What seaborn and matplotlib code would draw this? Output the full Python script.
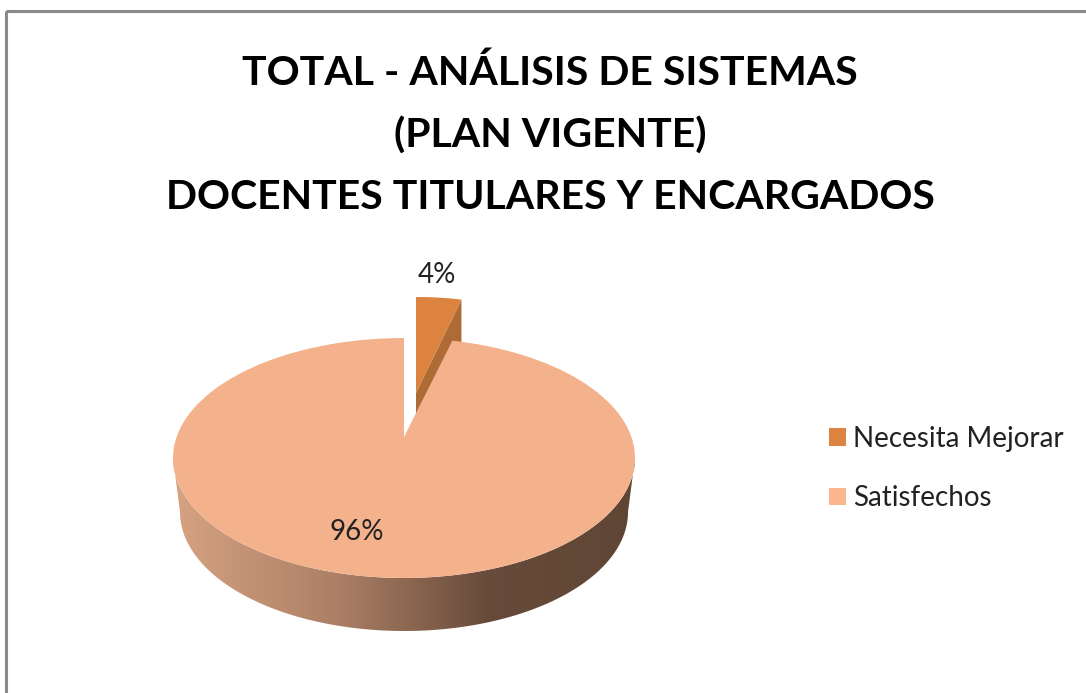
import matplotlib
matplotlib.use("Agg")
import numpy as np
import matplotlib.pyplot as plt
import seaborn as sns
from matplotlib.colors import LinearSegmentedColormap
from matplotlib.patches import Polygon, Rectangle
from matplotlib.transforms import Transform, Affine2D

categories = ["Necesita Mejorar", "Satisfechos"]
values = [4, 96]
title_text = "TOTAL - ANÁLISIS DE SISTEMAS\n(PLAN VIGENTE)\nDOCENTES TITULARES Y ENCARGADOS"

slice_colors = ["#DC833F", "#F4B28C"]
legend_colors = ["#DC833F", "#FBB58F"]
wedge_side_color = "#AE6B35"
side_stops = [(0.0, "#D6A282"), (0.36, "#AB7F65"), (0.68, "#684B3A"), (1.0, "#5F4634")]

sns.set_theme(style="white")
plt.rcParams["font.family"] = ["Lato", "DejaVu Sans"]

CX, CY = 404.0, 437.0
K, A, B = 0.175, 116.3, 227.4


class Perspective(Transform):
    """Tilts the flat unit-circle pie into pixel-like axes coordinates."""
    input_dims = output_dims = 2
    has_inverse = False
    is_separable = False

    def transform_non_affine(self, values):
        p = np.asarray(values, float)
        d = 1 + K * p[:, 1]
        return np.column_stack((CX + B * p[:, 0] / d, CY - A * p[:, 1] / d))


fig = plt.figure(figsize=(10.86, 6.93), dpi=100, facecolor="white")
ax = fig.add_axes([0, 0, 1, 1])

wedges, _, autotexts = ax.pie(
    values, colors=sns.color_palette(slice_colors), startangle=90, counterclock=False,
    autopct="%1.0f%%", wedgeprops={"linewidth": 0},
    textprops={"fontsize": 20, "color": "#222222"},
)
ax.set_aspect("auto")

persp = Perspective()
small, big = wedges
small_tr = persp + Affine2D().translate(-CX, -CY).scale(0.94, 0.97).translate(CX + 12, CY - 44)
small.set_transform(small_tr + ax.transData)
big.set_transform(persp + ax.transData)
small.set_zorder(3)
big.set_zorder(6)

# dark cut face of the pulled-out slice
rad = np.deg2rad(small.theta1)
face = small_tr.transform(np.array([[0.0, 0.0], [np.cos(rad), np.sin(rad)]]))
depth = 54
side_pts = np.vstack((face, face[::-1] + [0, depth]))
ax.add_patch(Polygon(side_pts, closed=True, fc=wedge_side_color, ec="none", zorder=2))

# outer wall of the big slice, shaded left to right
t = np.linspace(np.pi, 2 * np.pi, 200)
ey, rx, ry = 458.0, 231.0, 120.0
top_edge = np.column_stack((CX + rx * np.cos(t), ey - ry * np.sin(t)))
low_edge = np.column_stack((CX + (rx - 7) * np.cos(t), ey + depth - (ry - 1) * np.sin(t)))
wall = Polygon(np.vstack((top_edge, low_edge[::-1])), closed=True, fc="none", ec="none",
               transform=ax.transData)
ax.add_patch(wall)
cmap = LinearSegmentedColormap.from_list("wall", side_stops)
grad = ax.imshow(np.linspace(0, 1, 256)[None, :], cmap=cmap, aspect="auto",
                 extent=(CX - rx, CX + rx, 650, 440), zorder=5)
grad.set_clip_path(wall)

ax.set_xlim(0, 1086)
ax.set_ylim(693, 0)
ax.set_aspect("auto")

autotexts[0].set_position((437, 275))
autotexts[1].set_position((357, 532))
for txt in autotexts:
    txt.set_zorder(8)
    txt.set_ha("center")
    txt.set_va("center")

ax.text(550, 135, title_text, ha="center", va="center", fontsize=29.5, fontweight="bold",
        color="black", linespacing=1.8, zorder=8)

leg = ax.legend(wedges, categories, loc="center left", bbox_to_anchor=(815 / 1086, 1 - 468.5 / 693),
                frameon=False, fontsize=20, handlelength=0.6, handleheight=0.6,
                handletextpad=0.27, labelspacing=1.2, labelcolor="#222222",
                borderpad=0, borderaxespad=0.5)
for h, c in zip(leg.legend_handles, legend_colors):
    h.set_facecolor(c)

ax.add_patch(Rectangle((6, 11), 1300, 900, fc="none", ec="#8A8A8A", lw=2.2, zorder=1))

fig.savefig("out.png", dpi=100, facecolor="white")
